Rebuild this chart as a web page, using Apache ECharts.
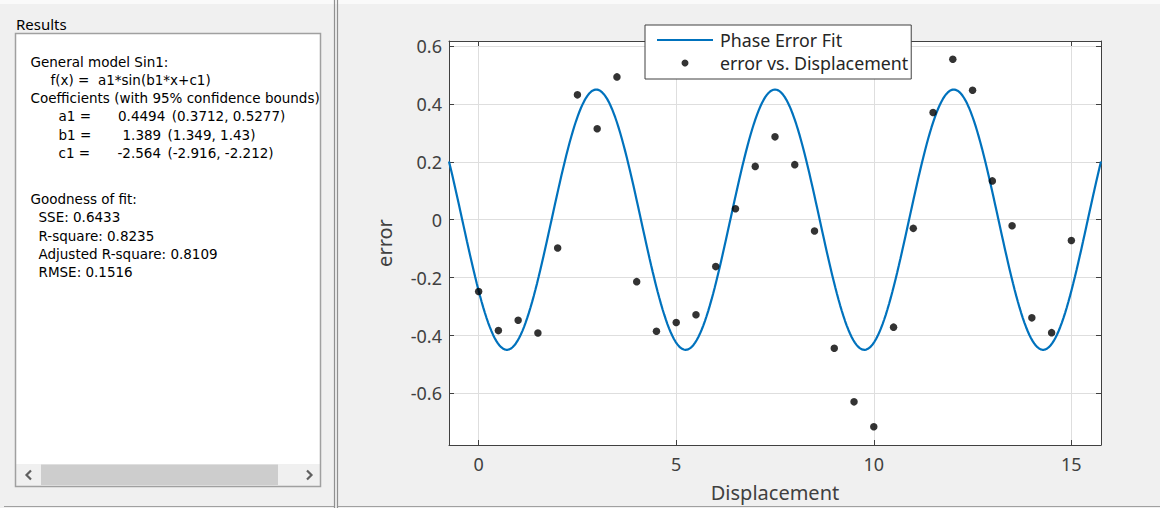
<!DOCTYPE html>
<html>
<head>
<meta charset="utf-8">
<title>Phase Error Fit</title>
<script src="https://cdn.jsdelivr.net/npm/echarts@6/dist/echarts.min.js"></script>
<style>
  html, body { margin: 0; padding: 0; background: #f0f0f0; }
  #chart { width: 1160px; height: 508px; }
</style>
</head>
<body>
<div id="chart"></div>
<script>
// Measured phase error at each displacement step
const displacement = [0, 0.5, 1, 1.5, 2, 2.5, 3, 3.5, 4, 4.5, 5, 5.5, 6, 6.5, 7, 7.5,
  8, 8.5, 9, 9.5, 10, 10.5, 11, 11.5, 12, 12.5, 13, 13.5, 14, 14.5, 15];
const errorValues = [-0.248, -0.383, -0.347, -0.391, -0.098, 0.431, 0.314, 0.493,
  -0.214, -0.385, -0.355, -0.328, -0.162, 0.038, 0.184, 0.286, 0.190, -0.039,
  -0.444, -0.629, -0.715, -0.371, -0.030, 0.370, 0.554, 0.447, 0.134, -0.021,
  -0.339, -0.390, -0.072];

// Sin1 model: f(x) = a1*sin(b1*x+c1), coefficients with 95% confidence bounds
const coefNames = ['a1', 'b1', 'c1'];
const coefValues = [0.4494, 1.389, -2.564];
const coefLower = [0.3712, 1.349, -2.916];
const coefUpper = [0.5277, 1.43, -2.212];

// Goodness-of-fit statistics
const gofNames = ['SSE', 'R-square', 'Adjusted R-square', 'RMSE'];
const gofValues = ['0.6433', '0.8235', '0.8109', '0.1516'];

// Axis ticks and limits
const xTicks = [0, 5, 10, 15];
const yTicks = [-0.6, -0.4, -0.2, 0, 0.2, 0.4, 0.6];
const xRange = [-0.75, 15.75];
const yRange = [-0.778, 0.617];

// Fitted curve evaluated from the reported coefficients across the x limits
const [a1, b1, c1] = coefValues;
const fitCurve = [];
const samples = 400;
for (let i = 0; i <= samples; i++) {
  const x = xRange[0] + (xRange[1] - xRange[0]) * i / samples;
  fitCurve.push([x, a1 * Math.sin(b1 * x + c1)]);
}
const points = displacement.map((x, i) => [x, errorValues[i]]);

// ---- Results panel ----
const panelFontFamily = '"DejaVu Sans", Verdana, sans-serif';
const panelFontSize = 13.5;
const measureCtx = document.createElement('canvas').getContext('2d');
function textWidth(s) {
  measureCtx.font = panelFontSize + 'px ' + panelFontFamily;
  return measureCtx.measureText(s).width;
}
function label(x, y, text, extra) {
  return {
    type: 'text', x: x, y: y, silent: true,
    style: Object.assign({
      text: text, fill: '#000', fontSize: panelFontSize, fontFamily: panelFontFamily,
      textAlign: 'left', textVerticalAlign: 'middle'
    }, extra || {})
  };
}
const rowH = 18.3;
const valueX = [118, 122.5, 117.5];
const panel = [];
// top highlight strip
panel.push({ type: 'rect', shape: { x: 0, y: 0, width: 1160, height: 4 }, style: { fill: '#fafafa' }, silent: true });
// list box
panel.push({ type: 'rect', shape: { x: 15.5, y: 33.5, width: 305, height: 453 }, style: { fill: '#fff' }, silent: true });
panel.push(label(30.5, 61.5, 'General model Sin1:'));
panel.push(label(50.5, 61.5 + rowH, 'f(x) =  a1*sin(b1*x+c1)'));
panel.push(label(30.5, 61.5 + 2 * rowH, 'Coefficients (with 95% confidence bounds)'));
coefNames.forEach((n, i) => {
  const y = 61.5 + (3 + i) * rowH;
  const valueText = String(coefValues[i]);
  panel.push(label(58.5, y, n + ' ='));
  panel.push(label(valueX[i], y, valueText));
  const bx = valueX[i] + textWidth(valueText) + 1.5 * textWidth(' ');
  panel.push(label(bx, y, '(' + coefLower[i] + ', ' + coefUpper[i] + ')'));
});
panel.push(label(30.5, 199, 'Goodness of fit:'));
gofNames.forEach((n, i) => {
  panel.push(label(38.5, 199 + (i + 1) * rowH, n + ': ' + gofValues[i]));
});
// keep overflowing text inside the list box edge
panel.push({ type: 'rect', shape: { x: 321, y: 30, width: 13, height: 460 }, style: { fill: '#f0f0f0' }, silent: true });
// horizontal scrollbar
panel.push({ type: 'rect', shape: { x: 16, y: 464, width: 304, height: 22 }, style: { fill: '#f0f0f0' }, silent: true });
panel.push({ type: 'rect', shape: { x: 41, y: 464.5, width: 237, height: 20.5 }, style: { fill: '#cdcdcd' }, silent: true });
panel.push({ type: 'polyline', shape: { points: [[31, 470.5], [26.5, 475], [31, 479.5]] },
  style: { stroke: '#606060', lineWidth: 2.2, fill: null }, silent: true });
panel.push({ type: 'polyline', shape: { points: [[307, 470.5], [311.5, 475], [307, 479.5]] },
  style: { stroke: '#606060', lineWidth: 2.2, fill: null }, silent: true });
// list box border
panel.push({ type: 'rect', shape: { x: 15.5, y: 33.5, width: 305, height: 453 },
  style: { fill: null, stroke: '#a0a0a0', lineWidth: 1.5 }, silent: true });
panel.push(label(16, 24, 'Results', { fontSize: 15, fontFamily: '"Noto Sans", sans-serif' }));
// panel frames and splitter
panel.push({ type: 'line', shape: { x1: 4, y1: 506.5, x2: 335, y2: 506.5 }, style: { stroke: '#a0a0a0', lineWidth: 1 }, silent: true });
panel.push({ type: 'line', shape: { x1: 338, y1: 506.5, x2: 1160, y2: 506.5 }, style: { stroke: '#a0a0a0', lineWidth: 1 }, silent: true });
panel.push({ type: 'line', shape: { x1: 334.5, y1: 0, x2: 334.5, y2: 508 }, style: { stroke: '#909090', lineWidth: 1.2 }, silent: true });
panel.push({ type: 'line', shape: { x1: 337.5, y1: 0, x2: 337.5, y2: 508 }, style: { stroke: '#909090', lineWidth: 1.2 }, silent: true });

// ---- Plot ----
const axisColor = '#404040';
const gridColor = '#dedede';
const plotFont = '"Noto Sans", sans-serif';

function boxAxis(range, ticks, pos) {
  return {
    type: 'value', min: range[0], max: range[1], position: pos,
    axisLine: { show: true, onZero: false, lineStyle: { color: axisColor, width: 1 } },
    axisTick: { show: true, inside: true, length: 5, customValues: ticks, lineStyle: { color: axisColor } },
    axisLabel: { show: false },
    splitLine: { show: false }
  };
}

const chart = echarts.init(document.getElementById('chart'), null, { renderer: 'svg' });
chart.setOption({
  backgroundColor: '#f0f0f0',
  animation: false,
  textStyle: { fontFamily: plotFont },
  grid: { left: 449, top: 41, width: 652, height: 404, show: true, backgroundColor: '#fff', borderWidth: 0 },
  legend: {
    orient: 'vertical', left: 645, top: 25,
    padding: [5, 3, 6, 11],
    itemWidth: 56, itemHeight: 7, itemGap: 3,
    backgroundColor: '#fff', borderColor: axisColor, borderWidth: 1, borderRadius: 0,
    selectedMode: false,
    textStyle: { fontSize: 17.8, color: '#262626', lineHeight: 20, padding: [0, 0, 0, 2], fontFamily: plotFont },
    data: [
      { name: 'Phase Error Fit', itemStyle: { color: 'rgba(0,0,0,0)', borderWidth: 0 } },
      { name: 'error vs. Displacement', icon: 'circle' }
    ]
  },
  xAxis: [
    {
      type: 'value', min: xRange[0], max: xRange[1], position: 'bottom',
      name: 'Displacement', nameLocation: 'middle', nameGap: 37,
      nameTextStyle: { fontSize: 20, color: axisColor, fontFamily: plotFont },
      axisLine: { show: true, onZero: false, lineStyle: { color: axisColor, width: 1 } },
      axisTick: { show: true, inside: true, length: 5, customValues: xTicks, lineStyle: { color: axisColor } },
      axisLabel: { show: true, customValues: xTicks, fontSize: 18, color: axisColor, margin: 10,
        formatter: v => String(v) },
      splitLine: { show: true, lineStyle: { color: gridColor, width: 1 } }
    },
    boxAxis(xRange, xTicks, 'top')
  ],
  yAxis: [
    {
      type: 'value', min: yRange[0], max: yRange[1], position: 'left',
      name: 'error', nameLocation: 'middle', nameGap: 55,
      nameTextStyle: { fontSize: 20, color: axisColor, fontFamily: plotFont },
      axisLine: { show: true, onZero: false, lineStyle: { color: axisColor, width: 1 } },
      axisTick: { show: true, inside: true, length: 5, customValues: yTicks, lineStyle: { color: axisColor } },
      axisLabel: { show: true, customValues: yTicks, fontSize: 18, color: axisColor, margin: 7,
        formatter: v => String(Math.round(v * 10) / 10) },
      splitLine: { show: true, lineStyle: { color: gridColor, width: 1 } }
    },
    boxAxis(yRange, yTicks, 'right')
  ],
  graphic: { elements: panel },
  series: [
    {
      name: 'Phase Error Fit', type: 'line', data: fitCurve,
      showSymbol: false, symbol: 'none', clip: true, z: 3,
      lineStyle: { color: '#0072BD', width: 2.2 }, itemStyle: { color: '#0072BD' }
    },
    {
      name: 'error vs. Displacement', type: 'scatter', data: points,
      symbol: 'circle', symbolSize: 7.5, z: 4,
      itemStyle: { color: '#000' }
    }
  ]
});
</script>
</body>
</html>
